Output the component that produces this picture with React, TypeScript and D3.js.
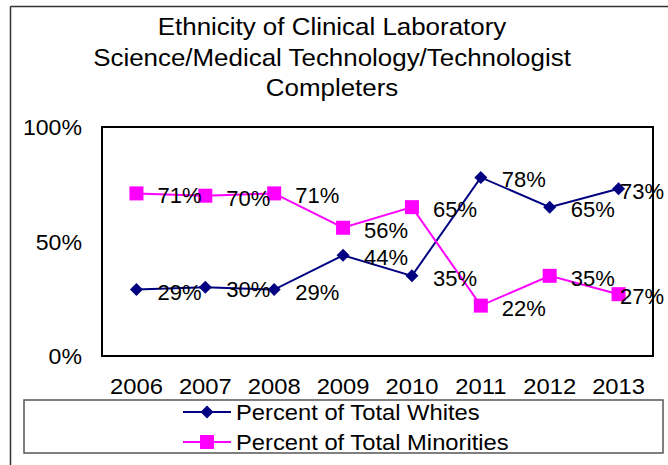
import React from "react";
import * as d3 from "d3";

const years = ["2006", "2007", "2008", "2009", "2010", "2011", "2012", "2013"];
const whites = [29, 30, 29, 44, 35, 78, 65, 73];
const minorities = [71, 70, 71, 56, 65, 22, 35, 27];
const yTicks = [0, 50, 100];
const titleLines = [
  "Ethnicity  of Clinical  Laboratory",
  "Science/Medical Technology/Technologist",
  "Completers",
];
const seriesNames = ["Percent of Total Whites", "Percent of Total Minorities"];

const W = 668;
const H = 465;
const FONT = "'Liberation Sans', Arial, sans-serif";
const plot = { left: 102, right: 653, top: 127, bottom: 356 };
const NAVY = "#000080";
const MAGENTA = "#FF00FF";

function SText({ x, y, sx = 1, anchor = "start", size = 22, children, baseline }: any) {
  return (
    <text
      transform={`translate(${x},${y}) scale(${sx},1)`}
      textAnchor={anchor}
      fontSize={size}
      fontFamily={FONT}
      fill="#000"
      dominantBaseline={baseline}
    >
      {children}
    </text>
  );
}

export default function App() {
  const x = d3.scaleBand<string>().domain(years).range([plot.left, plot.right]);
  const y = d3.scaleLinear().domain([0, 100]).range([plot.bottom, plot.top]);
  const cx = (d: string) => (x(d) as number) + x.bandwidth() / 2;
  const line = d3
    .line<number>()
    .x((_, i) => cx(years[i]))
    .y((d) => y(d));

  const diamond = (px: number, py: number, r = 6.5) =>
    `M${px},${py - r}L${px + r},${py}L${px},${py + r}L${px - r},${py}Z`;

  const labelX = (px: number) => (px + 21 + 45 > 666 ? 620 : px + 21);

  return (
    <svg
      width={W}
      height={H}
      style={{ position: "absolute", left: 0, top: 0, background: "#fff" }}
    >
      <rect x={0} y={0} width={W} height={H} fill="#fff" />
      {/* outer frame */}
      <line x1={10.5} y1={6.5} x2={W} y2={6.5} stroke="#333" strokeWidth={1.5} />
      <line x1={10.5} y1={6.5} x2={10.5} y2={H} stroke="#333" strokeWidth={1.5} />

      {/* title */}
      {titleLines.map((t, i) => (
        <SText key={i} x={332} y={35 + i * 30.5} anchor="middle" size={24} sx={1.08}>
          {t}
        </SText>
      ))}

      {/* plot area */}
      <rect
        x={plot.left}
        y={plot.top}
        width={plot.right - plot.left}
        height={plot.bottom - plot.top}
        fill="#fff"
        stroke="#000"
        strokeWidth={2}
      />

      {/* y axis labels */}
      {yTicks.map((t) => (
        <SText key={t} x={82} y={y(t) + 8} anchor="end" sx={1.05}>
          {`${t}%`}
        </SText>
      ))}

      {/* x axis labels */}
      {years.map((yr) => (
        <SText key={yr} x={cx(yr)} y={394} anchor="middle" sx={1.08}>
          {yr}
        </SText>
      ))}

      {/* lines */}
      <path d={line(whites) || ""} fill="none" stroke={NAVY} strokeWidth={2} />
      <path d={line(minorities) || ""} fill="none" stroke={MAGENTA} strokeWidth={2} />

      {/* markers */}
      {whites.map((v, i) => (
        <path key={"w" + i} d={diamond(cx(years[i]), y(v))} fill={NAVY} />
      ))}
      {minorities.map((v, i) => (
        <rect
          key={"m" + i}
          x={cx(years[i]) - 7}
          y={y(v) - 7}
          width={14}
          height={14}
          fill={MAGENTA}
        />
      ))}

      {/* data labels */}
      {whites.map((v, i) => (
        <SText key={"wl" + i} x={labelX(cx(years[i]))} y={y(v) + 10}>
          {`${v}%`}
        </SText>
      ))}
      {minorities.map((v, i) => (
        <SText key={"ml" + i} x={labelX(cx(years[i]))} y={y(v) + 10}>
          {`${v}%`}
        </SText>
      ))}

      {/* legend */}
      <rect x={24} y={400} width={639} height={53} fill="#fff" stroke="#555" strokeWidth={1.5} />
      {seriesNames.map((name, i) => {
        const ly = 412 + i * 30;
        const color = i === 0 ? NAVY : MAGENTA;
        return (
          <g key={name}>
            <line x1={183} y1={ly} x2={231} y2={ly} stroke={color} strokeWidth={2} />
            {i === 0 ? (
              <path d={diamond(207, ly)} fill={color} />
            ) : (
              <rect x={200} y={ly - 7} width={14} height={14} fill={color} />
            )}
            <SText x={236} y={ly + 8} sx={1.08}>
              {name}
            </SText>
          </g>
        );
      })}
    </svg>
  );
}
